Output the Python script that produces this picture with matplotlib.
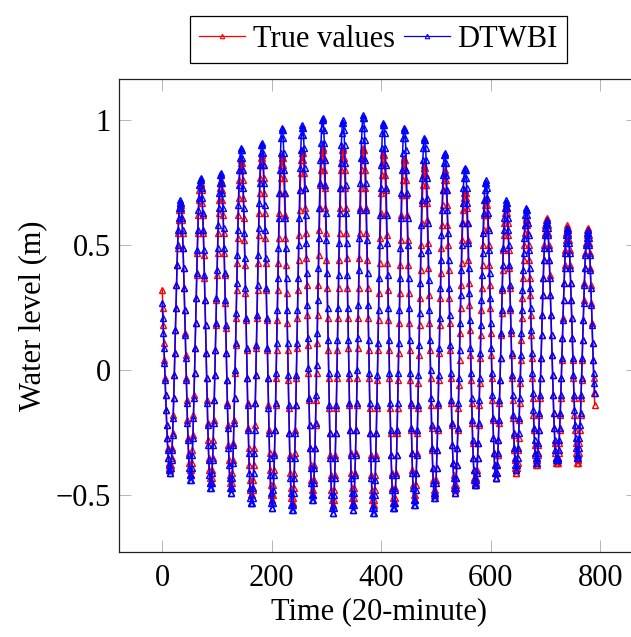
import numpy as np
import matplotlib
matplotlib.use("Agg")
import matplotlib.pyplot as plt

# ---------------- data ----------------
true_values = [
    0.32, 0.25, 0.18, 0.11, 0.04, -0.03, -0.10, -0.16, -0.22, -0.27, -0.31, -0.35, -0.37, -0.39, -0.40,
    -0.40, -0.38, -0.35, -0.31, -0.25, -0.18, -0.11, -0.02, 0.07, 0.16, 0.25, 0.34, 0.42, 0.49, 0.55, 0.60, 0.64, 0.66,
    0.67,
    0.66, 0.64, 0.60, 0.55, 0.49, 0.41, 0.33, 0.24, 0.15, 0.06, -0.03, -0.12, -0.20, -0.27, -0.33, -0.37, -0.40, -0.42,
    -0.42, -0.40, -0.37, -0.32, -0.26, -0.18, -0.10, -0.01, 0.09, 0.19, 0.29, 0.38, 0.47, 0.55, 0.62, 0.68, 0.72, 0.74,
    0.75,
    0.74, 0.72, 0.67, 0.62, 0.55, 0.46, 0.37, 0.28, 0.18, 0.07, -0.03, -0.12, -0.21, -0.28, -0.35, -0.40, -0.43, -0.45,
    -0.45, -0.43, -0.40, -0.35, -0.28, -0.20, -0.12, -0.02, 0.08, 0.18, 0.28, 0.38, 0.47, 0.55, 0.63, 0.68, 0.73, 0.75,
    0.76,
    0.75, 0.72, 0.68, 0.62, 0.55, 0.47, 0.38, 0.27, 0.17, 0.07, -0.04, -0.13, -0.22, -0.30, -0.36, -0.42, -0.45, -0.47,
    -0.47, -0.45, -0.41, -0.36, -0.29, -0.20, -0.11, -0.01, 0.10, 0.21, 0.32, 0.43, 0.53, 0.62, 0.69, 0.76, 0.80, 0.83,
    0.84,
    0.83, 0.80, 0.76, 0.69, 0.61, 0.52, 0.42, 0.31, 0.20, 0.08, -0.03, -0.13, -0.23, -0.31, -0.38, -0.44, -0.48, -0.50, -0.50,
    -0.50, -0.48, -0.44, -0.38, -0.31, -0.22, -0.13, -0.02, 0.09, 0.21, 0.32, 0.43, 0.54, 0.63, 0.71, 0.77, 0.82, 0.85,
    0.86,
    0.85, 0.82, 0.77, 0.71, 0.63, 0.53, 0.43, 0.32, 0.20, 0.08, -0.03, -0.14, -0.24, -0.33, -0.40, -0.46, -0.50, -0.52,
    -0.52, -0.50, -0.46, -0.40, -0.33, -0.24, -0.14, -0.03, 0.08, 0.20, 0.32, 0.43, 0.53, 0.63, 0.71, 0.77, 0.82, 0.85,
    0.86,
    0.85, 0.82, 0.77, 0.71, 0.62, 0.53, 0.42, 0.31, 0.19, 0.08, -0.04, -0.15, -0.25, -0.34, -0.41, -0.47, -0.51, -0.53,
    -0.53, -0.51, -0.47, -0.41, -0.33, -0.24, -0.14, -0.03, 0.09, 0.21, 0.32, 0.44, 0.54, 0.64, 0.72, 0.79, 0.84, 0.87,
    0.88,
    0.87, 0.84, 0.79, 0.73, 0.65, 0.55, 0.45, 0.34, 0.22, 0.10, -0.01, -0.12, -0.22, -0.31, -0.38, -0.44, -0.48, -0.50,
    -0.50, -0.48, -0.44, -0.38, -0.31, -0.22, -0.12, -0.01, 0.11, 0.22, 0.34, 0.46, 0.56, 0.65, 0.74, 0.80, 0.85, 0.88,
    0.89,
    0.88, 0.85, 0.80, 0.73, 0.65, 0.55, 0.44, 0.33, 0.21, 0.08, -0.03, -0.15, -0.25, -0.34, -0.42, -0.48, -0.52, -0.54,
    -0.54, -0.52, -0.48, -0.42, -0.34, -0.25, -0.15, -0.03, 0.08, 0.21, 0.33, 0.44, 0.55, 0.65, 0.73, 0.80, 0.85, 0.88,
    0.89,
    0.88, 0.85, 0.80, 0.73, 0.65, 0.55, 0.45, 0.33, 0.21, 0.09, -0.03, -0.14, -0.24, -0.33, -0.41, -0.47, -0.51, -0.53,
    -0.53, -0.51, -0.47, -0.41, -0.33, -0.24, -0.14, -0.03, 0.09, 0.21, 0.33, 0.45, 0.55, 0.65, 0.73, 0.80, 0.85, 0.88,
    0.89,
    0.88, 0.85, 0.80, 0.73, 0.65, 0.55, 0.44, 0.33, 0.21, 0.08, -0.03, -0.15, -0.25, -0.34, -0.42, -0.48, -0.52, -0.54,
    -0.54, -0.52, -0.48, -0.42, -0.34, -0.25, -0.15, -0.04, 0.08, 0.20, 0.31, 0.43, 0.53, 0.63, 0.71, 0.78, 0.83, 0.86,
    0.87,
    0.86, 0.83, 0.78, 0.72, 0.63, 0.54, 0.43, 0.32, 0.20, 0.08, -0.03, -0.15, -0.25, -0.34, -0.41, -0.47, -0.51, -0.53, -0.53,
    -0.53, -0.51, -0.47, -0.41, -0.34, -0.25, -0.15, -0.04, 0.07, 0.19, 0.31, 0.42, 0.52, 0.62, 0.70, 0.76, 0.81, 0.84,
    0.85,
    0.84, 0.81, 0.76, 0.70, 0.62, 0.52, 0.42, 0.31, 0.19, 0.08, -0.04, -0.14, -0.24, -0.33, -0.40, -0.46, -0.50, -0.52,
    -0.52, -0.50, -0.46, -0.41, -0.33, -0.25, -0.15, -0.05, 0.06, 0.18, 0.29, 0.40, 0.50, 0.59, 0.67, 0.74, 0.78, 0.81,
    0.82,
    0.81, 0.78, 0.74, 0.67, 0.60, 0.51, 0.41, 0.30, 0.19, 0.08, -0.03, -0.14, -0.23, -0.32, -0.39, -0.44, -0.48, -0.50,
    -0.50, -0.48, -0.44, -0.39, -0.32, -0.24, -0.14, -0.04, 0.07, 0.18, 0.29, 0.39, 0.49, 0.58, 0.66, 0.72, 0.76, 0.79,
    0.80,
    0.79, 0.76, 0.72, 0.66, 0.58, 0.50, 0.40, 0.29, 0.19, 0.08, -0.03, -0.13, -0.22, -0.30, -0.37, -0.42, -0.46, -0.48,
    -0.48, -0.46, -0.43, -0.38, -0.31, -0.24, -0.15, -0.06, 0.04, 0.15, 0.25, 0.34, 0.43, 0.52, 0.59, 0.64, 0.69, 0.71,
    0.72,
    0.71, 0.69, 0.65, 0.59, 0.52, 0.44, 0.35, 0.26, 0.16, 0.06, -0.04, -0.13, -0.21, -0.29, -0.35, -0.40, -0.43, -0.45, -0.45,
    -0.45, -0.43, -0.40, -0.35, -0.29, -0.22, -0.14, -0.05, 0.05, 0.14, 0.24, 0.33, 0.42, 0.50, 0.56, 0.62, 0.66, 0.68,
    0.69,
    0.68, 0.66, 0.62, 0.57, 0.50, 0.42, 0.34, 0.25, 0.15, 0.06, -0.03, -0.12, -0.20, -0.27, -0.33, -0.38, -0.41, -0.43,
    -0.43, -0.41, -0.38, -0.34, -0.28, -0.21, -0.13, -0.04, 0.05, 0.14, 0.23, 0.32, 0.40, 0.48, 0.54, 0.59, 0.63, 0.65,
    0.66,
    0.65, 0.63, 0.59, 0.54, 0.48, 0.41, 0.33, 0.24, 0.15, 0.06, -0.03, -0.12, -0.19, -0.26, -0.32, -0.36, -0.39, -0.41,
    -0.41, -0.39, -0.37, -0.32, -0.27, -0.20, -0.13, -0.05, 0.04, 0.12, 0.21, 0.29, 0.37, 0.44, 0.50, 0.55, 0.58, 0.60,
    0.61,
    0.60, 0.58, 0.55, 0.50, 0.44, 0.37, 0.30, 0.22, 0.14, 0.05, -0.03, -0.11, -0.18, -0.24, -0.30, -0.34, -0.36, -0.38,
    -0.38, -0.36, -0.34, -0.30, -0.24, -0.18, -0.11, -0.03, 0.05, 0.14, 0.22, 0.30, 0.37, 0.44, 0.50, 0.55, 0.58, 0.60,
    0.61,
    0.60, 0.58, 0.55, 0.50, 0.44, 0.38, 0.30, 0.22, 0.14, 0.06, -0.02, -0.10, -0.17, -0.23, -0.29, -0.33, -0.35, -0.37, -0.37,
    -0.37, -0.35, -0.33, -0.29, -0.24, -0.18, -0.11, -0.03, 0.04, 0.13, 0.21, 0.28, 0.35, 0.42, 0.48, 0.52, 0.55, 0.57,
    0.58,
    0.57, 0.55, 0.52, 0.48, 0.42, 0.35, 0.28, 0.21, 0.13, 0.04, -0.03, -0.11, -0.18, -0.24, -0.29, -0.33, -0.35, -0.37,
    -0.37, -0.36, -0.33, -0.29, -0.24, -0.18, -0.11, -0.04, 0.04, 0.12, 0.20, 0.28, 0.35, 0.41, 0.47, 0.51, 0.54, 0.56,
    0.57,
    0.56, 0.54, 0.51, 0.47, 0.41, 0.34, 0.27, 0.19, 0.11, 0.04, -0.03, -0.09, -0.14,
]

dtwbi_values = [
    0.27, 0.21, 0.15, 0.09, 0.03, -0.04, -0.10, -0.16, -0.22, -0.27, -0.32, -0.35, -0.38, -0.40, -0.41,
    -0.41, -0.39, -0.36, -0.32, -0.26, -0.19, -0.11, -0.02, 0.07, 0.16, 0.25, 0.34, 0.42, 0.50, 0.56, 0.61, 0.65, 0.67,
    0.68,
    0.67, 0.65, 0.61, 0.56, 0.49, 0.41, 0.33, 0.24, 0.14, 0.05, -0.04, -0.13, -0.21, -0.28, -0.34, -0.39, -0.42, -0.44,
    -0.44, -0.42, -0.39, -0.34, -0.27, -0.19, -0.11, -0.01, 0.09, 0.19, 0.29, 0.39, 0.48, 0.56, 0.64, 0.69, 0.74, 0.76,
    0.77,
    0.76, 0.73, 0.69, 0.63, 0.56, 0.48, 0.38, 0.28, 0.18, 0.07, -0.03, -0.13, -0.22, -0.30, -0.36, -0.42, -0.45, -0.47,
    -0.47, -0.45, -0.41, -0.36, -0.30, -0.21, -0.12, -0.02, 0.08, 0.19, 0.29, 0.40, 0.49, 0.58, 0.65, 0.71, 0.75, 0.78,
    0.79,
    0.78, 0.75, 0.71, 0.65, 0.57, 0.49, 0.39, 0.28, 0.18, 0.07, -0.04, -0.14, -0.23, -0.31, -0.38, -0.43, -0.47, -0.49,
    -0.49, -0.47, -0.43, -0.37, -0.30, -0.21, -0.11, 0.00, 0.11, 0.23, 0.35, 0.46, 0.56, 0.66, 0.74, 0.80, 0.85, 0.88,
    0.89,
    0.88, 0.85, 0.80, 0.73, 0.65, 0.55, 0.45, 0.33, 0.21, 0.09, -0.03, -0.14, -0.24, -0.33, -0.41, -0.47, -0.51, -0.53, -0.53,
    -0.53, -0.51, -0.47, -0.41, -0.33, -0.24, -0.13, -0.02, 0.10, 0.22, 0.34, 0.46, 0.57, 0.67, 0.75, 0.82, 0.87, 0.90,
    0.91,
    0.90, 0.87, 0.82, 0.75, 0.66, 0.56, 0.45, 0.33, 0.21, 0.09, -0.03, -0.15, -0.25, -0.35, -0.42, -0.49, -0.53, -0.55,
    -0.55, -0.53, -0.48, -0.42, -0.34, -0.24, -0.13, -0.01, 0.11, 0.24, 0.37, 0.49, 0.61, 0.71, 0.80, 0.87, 0.93, 0.96,
    0.97,
    0.96, 0.93, 0.87, 0.80, 0.71, 0.61, 0.49, 0.37, 0.24, 0.11, -0.02, -0.14, -0.25, -0.35, -0.43, -0.49, -0.54, -0.56,
    -0.56, -0.54, -0.49, -0.43, -0.35, -0.25, -0.14, -0.02, 0.11, 0.24, 0.37, 0.50, 0.61, 0.72, 0.81, 0.88, 0.94, 0.97,
    0.98,
    0.97, 0.94, 0.89, 0.81, 0.73, 0.62, 0.51, 0.39, 0.26, 0.13, 0.01, -0.11, -0.22, -0.31, -0.39, -0.45, -0.50, -0.52,
    -0.52, -0.50, -0.45, -0.39, -0.31, -0.21, -0.10, 0.02, 0.15, 0.28, 0.41, 0.53, 0.65, 0.75, 0.84, 0.91, 0.97, 1.00,
    1.01,
    1.00, 0.96, 0.91, 0.84, 0.74, 0.63, 0.52, 0.39, 0.25, 0.12, -0.01, -0.14, -0.25, -0.35, -0.43, -0.50, -0.55, -0.57,
    -0.57, -0.55, -0.50, -0.43, -0.35, -0.25, -0.14, -0.01, 0.12, 0.25, 0.38, 0.51, 0.63, 0.73, 0.83, 0.90, 0.95, 0.99,
    1.00,
    0.99, 0.96, 0.90, 0.83, 0.74, 0.63, 0.51, 0.38, 0.25, 0.12, -0.01, -0.13, -0.24, -0.34, -0.43, -0.49, -0.54, -0.56,
    -0.56, -0.54, -0.49, -0.42, -0.34, -0.24, -0.13, 0.00, 0.13, 0.26, 0.40, 0.53, 0.64, 0.75, 0.85, 0.92, 0.97, 1.01,
    1.02,
    1.01, 0.97, 0.92, 0.84, 0.75, 0.64, 0.52, 0.39, 0.26, 0.12, -0.01, -0.13, -0.25, -0.35, -0.43, -0.50, -0.55, -0.57,
    -0.57, -0.55, -0.50, -0.44, -0.35, -0.25, -0.14, -0.02, 0.11, 0.24, 0.37, 0.50, 0.62, 0.73, 0.82, 0.89, 0.95, 0.98,
    0.99,
    0.98, 0.95, 0.89, 0.82, 0.73, 0.62, 0.51, 0.38, 0.25, 0.12, -0.01, -0.13, -0.24, -0.34, -0.42, -0.48, -0.53, -0.55, -0.55,
    -0.55, -0.53, -0.48, -0.42, -0.34, -0.24, -0.13, -0.01, 0.11, 0.24, 0.37, 0.49, 0.61, 0.71, 0.80, 0.87, 0.93, 0.96,
    0.97,
    0.96, 0.93, 0.88, 0.80, 0.71, 0.61, 0.50, 0.37, 0.25, 0.12, -0.01, -0.13, -0.23, -0.33, -0.41, -0.47, -0.52, -0.54,
    -0.54, -0.52, -0.48, -0.41, -0.34, -0.24, -0.14, -0.02, 0.10, 0.23, 0.35, 0.47, 0.58, 0.68, 0.77, 0.84, 0.89, 0.92,
    0.93,
    0.92, 0.89, 0.84, 0.77, 0.69, 0.59, 0.48, 0.36, 0.24, 0.12, 0.00, -0.11, -0.22, -0.31, -0.39, -0.45, -0.49, -0.51,
    -0.51, -0.49, -0.45, -0.39, -0.32, -0.23, -0.13, -0.02, 0.09, 0.21, 0.33, 0.44, 0.54, 0.64, 0.72, 0.78, 0.83, 0.86,
    0.87,
    0.86, 0.83, 0.78, 0.72, 0.64, 0.55, 0.44, 0.33, 0.22, 0.10, -0.01, -0.12, -0.21, -0.30, -0.37, -0.43, -0.47, -0.49,
    -0.49, -0.47, -0.43, -0.38, -0.31, -0.23, -0.13, -0.03, 0.08, 0.19, 0.30, 0.40, 0.50, 0.59, 0.67, 0.73, 0.77, 0.80,
    0.81,
    0.80, 0.77, 0.73, 0.67, 0.59, 0.51, 0.41, 0.31, 0.20, 0.09, -0.01, -0.11, -0.20, -0.28, -0.35, -0.40, -0.44, -0.46, -0.46,
    -0.46, -0.44, -0.41, -0.35, -0.29, -0.21, -0.12, -0.03, 0.07, 0.18, 0.28, 0.38, 0.47, 0.55, 0.63, 0.68, 0.72, 0.75,
    0.76,
    0.75, 0.73, 0.69, 0.63, 0.56, 0.48, 0.39, 0.29, 0.19, 0.09, -0.01, -0.10, -0.19, -0.27, -0.33, -0.38, -0.41, -0.43,
    -0.43, -0.41, -0.38, -0.33, -0.28, -0.20, -0.12, -0.04, 0.05, 0.15, 0.24, 0.33, 0.42, 0.49, 0.56, 0.61, 0.65, 0.67,
    0.68,
    0.67, 0.65, 0.61, 0.56, 0.50, 0.42, 0.34, 0.25, 0.16, 0.07, -0.02, -0.10, -0.18, -0.25, -0.31, -0.35, -0.38, -0.40,
    -0.40, -0.38, -0.35, -0.31, -0.25, -0.19, -0.11, -0.03, 0.06, 0.15, 0.24, 0.32, 0.40, 0.47, 0.53, 0.58, 0.62, 0.64,
    0.65,
    0.64, 0.62, 0.59, 0.54, 0.48, 0.41, 0.33, 0.25, 0.16, 0.07, -0.01, -0.09, -0.16, -0.23, -0.28, -0.33, -0.35, -0.37,
    -0.37, -0.35, -0.33, -0.29, -0.24, -0.17, -0.10, -0.03, 0.05, 0.14, 0.22, 0.30, 0.37, 0.44, 0.49, 0.54, 0.57, 0.59,
    0.60,
    0.59, 0.57, 0.54, 0.49, 0.44, 0.37, 0.30, 0.22, 0.14, 0.06, -0.02, -0.10, -0.17, -0.23, -0.28, -0.32, -0.35, -0.36, -0.36,
    -0.36, -0.35, -0.32, -0.28, -0.23, -0.17, -0.10, -0.03, 0.05, 0.13, 0.20, 0.28, 0.35, 0.41, 0.47, 0.51, 0.54, 0.56,
    0.57,
    0.56, 0.54, 0.51, 0.47, 0.41, 0.35, 0.28, 0.21, 0.13, 0.05, -0.02, -0.10, -0.16, -0.22, -0.27, -0.31, -0.34, -0.35,
    -0.35, -0.34, -0.31, -0.27, -0.22, -0.17, -0.10, -0.03, 0.05, 0.12, 0.20, 0.27, 0.34, 0.41, 0.46, 0.50, 0.53, 0.55,
    0.56,
    0.55, 0.53, 0.50, 0.46, 0.40, 0.33, 0.26, 0.18, 0.11, 0.04, -0.01, -0.05, -0.09,
]

series_labels = ["True values", "DTWBI"]
x_ticks = [0, 200, 400, 600, 800]
y_ticks = [-0.5, 0, 0.5, 1]
y_tick_labels = ["\u22120.5", "0", "0.5", "1"]
x_label = "Time (20-minute)"
y_label = "Water level (m)"

assert len(true_values) == len(dtwbi_values) == 791, (len(true_values), len(dtwbi_values))

# ---------------- figure ----------------
plt.rcParams["font.family"] = ["Liberation Serif", "DejaVu Serif"]
plt.rcParams["mathtext.fontset"] = "stix"

W, H = 631, 637
fig = plt.figure(figsize=(W / 100, H / 100), dpi=100)
ax_left, ax_right, ax_top, ax_bottom = 119, 638, 79, 552
ax = fig.add_axes([ax_left / W, 1 - ax_bottom / H, (ax_right - ax_left) / W, (ax_bottom - ax_top) / H])

t_true = np.arange(len(true_values))
t_dtwbi = np.arange(len(dtwbi_values))

style = dict(marker="^", markersize=4.6, markerfacecolor="none", markeredgewidth=1.0, linewidth=1.1)
ax.plot(t_true, true_values, color="#ff0000", label=series_labels[0], **style)
ax.plot(t_dtwbi, dtwbi_values, color="#0000ff", label=series_labels[1], **style)

ax.set_xlim(-79, 869)
ax.set_ylim(-0.728, 1.164)
ax.set_xticks(x_ticks)
ax.set_xticklabels([str(v) for v in x_ticks])
ax.set_yticks(y_ticks)
ax.set_yticklabels(y_tick_labels)

ax.tick_params(axis="both", which="both", direction="in", length=8.6, width=0.7,
               color="#b5b5b5", labelsize=22, top=True, right=True)
ax.tick_params(axis="x", pad=9)
ax.tick_params(axis="y", pad=6)
for sp in ax.spines.values():
    sp.set_linewidth(0.9)
    sp.set_color("#222222")

ax.set_xlabel(x_label, fontsize=22, labelpad=3)
ax.set_ylabel(y_label, fontsize=22, labelpad=6)

leg = fig.legend(loc="lower center", bbox_to_anchor=(378.5 / W, 1 - 63 / H), ncol=2,
                 fontsize=22, frameon=True, fancybox=False, framealpha=1, edgecolor="black",
                 borderpad=0.3, handlelength=1.5, handletextpad=0.25, columnspacing=0.3,
                 borderaxespad=0, numpoints=1, markerscale=0.7)
leg.get_frame().set_linewidth(0.9)
for line in leg.get_lines():
    line.set_linewidth(0.9)
    line.set_markeredgewidth(0.8)

fig.savefig("out.png", dpi=100)
